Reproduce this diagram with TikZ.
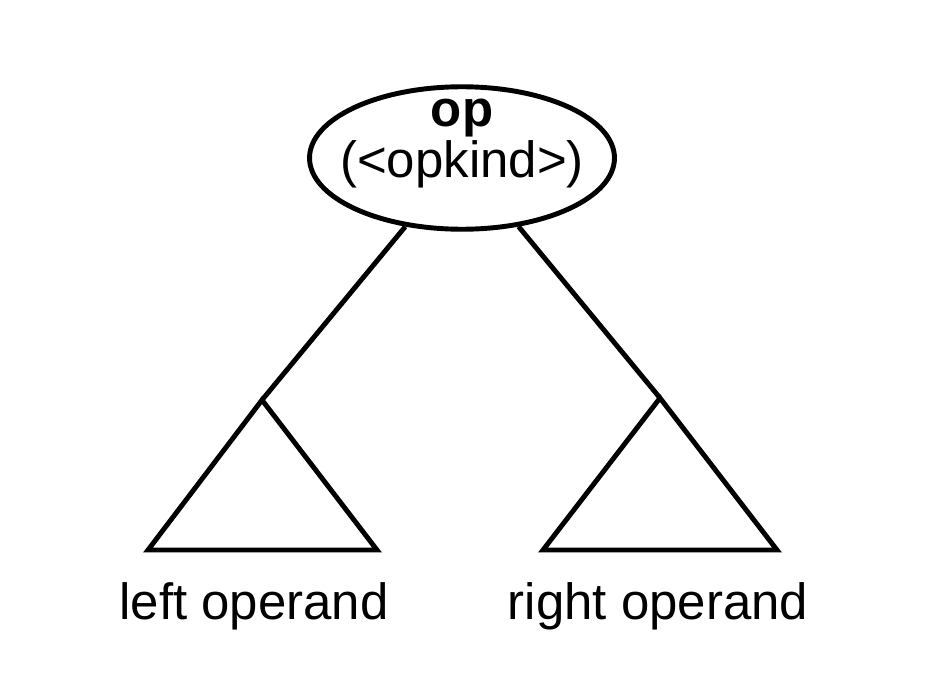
\documentclass[tikz,border=0pt]{standalone}
\usepackage{fontspec}
\setmainfont{Liberation Sans}
\usetikzlibrary{shapes.geometric, positioning}

\begin{document}
\begin{tikzpicture}[x=0.02cm, y=-0.02cm, line width=2.8pt,
    line join=miter, font=\fontsize{29}{33}\selectfont, align=center]

    \tikzset{
      opnode/.style = {shape=ellipse, draw, minimum width=6.1cm,
        minimum height=2.85cm, inner sep=0pt},
      optext/.style = {inner sep=0pt},
      leaf/.style   = {inner sep=0pt, anchor=base},
    }

    \useasboundingbox (0,0) rectangle (943,679);

    \node[opnode] (op) at (462,158) {};
    \node[optext] (opname) at (462,144) {\textbf{op}\\[-4pt](<opkind>)};

    % subtrees
    \coordinate (LT) at (262,400);
    \coordinate (LL) at (148,550);
    \coordinate (LR) at (377,550);
    \coordinate (RT) at (660,398);
    \coordinate (RL) at (543,550);
    \coordinate (RR) at (777,550);

    \draw (LT) -- (LL) -- (LR) -- cycle;
    \draw (RT) -- (RL) -- (RR) -- cycle;

    \path
      (op) edge[] (LT)
      (op) edge[] (RT);

    \node[leaf] (left)  at (254,619) {left operand};
    \node[leaf] (right) at (658,619) {right operand};

  \end{tikzpicture}
\end{document}
